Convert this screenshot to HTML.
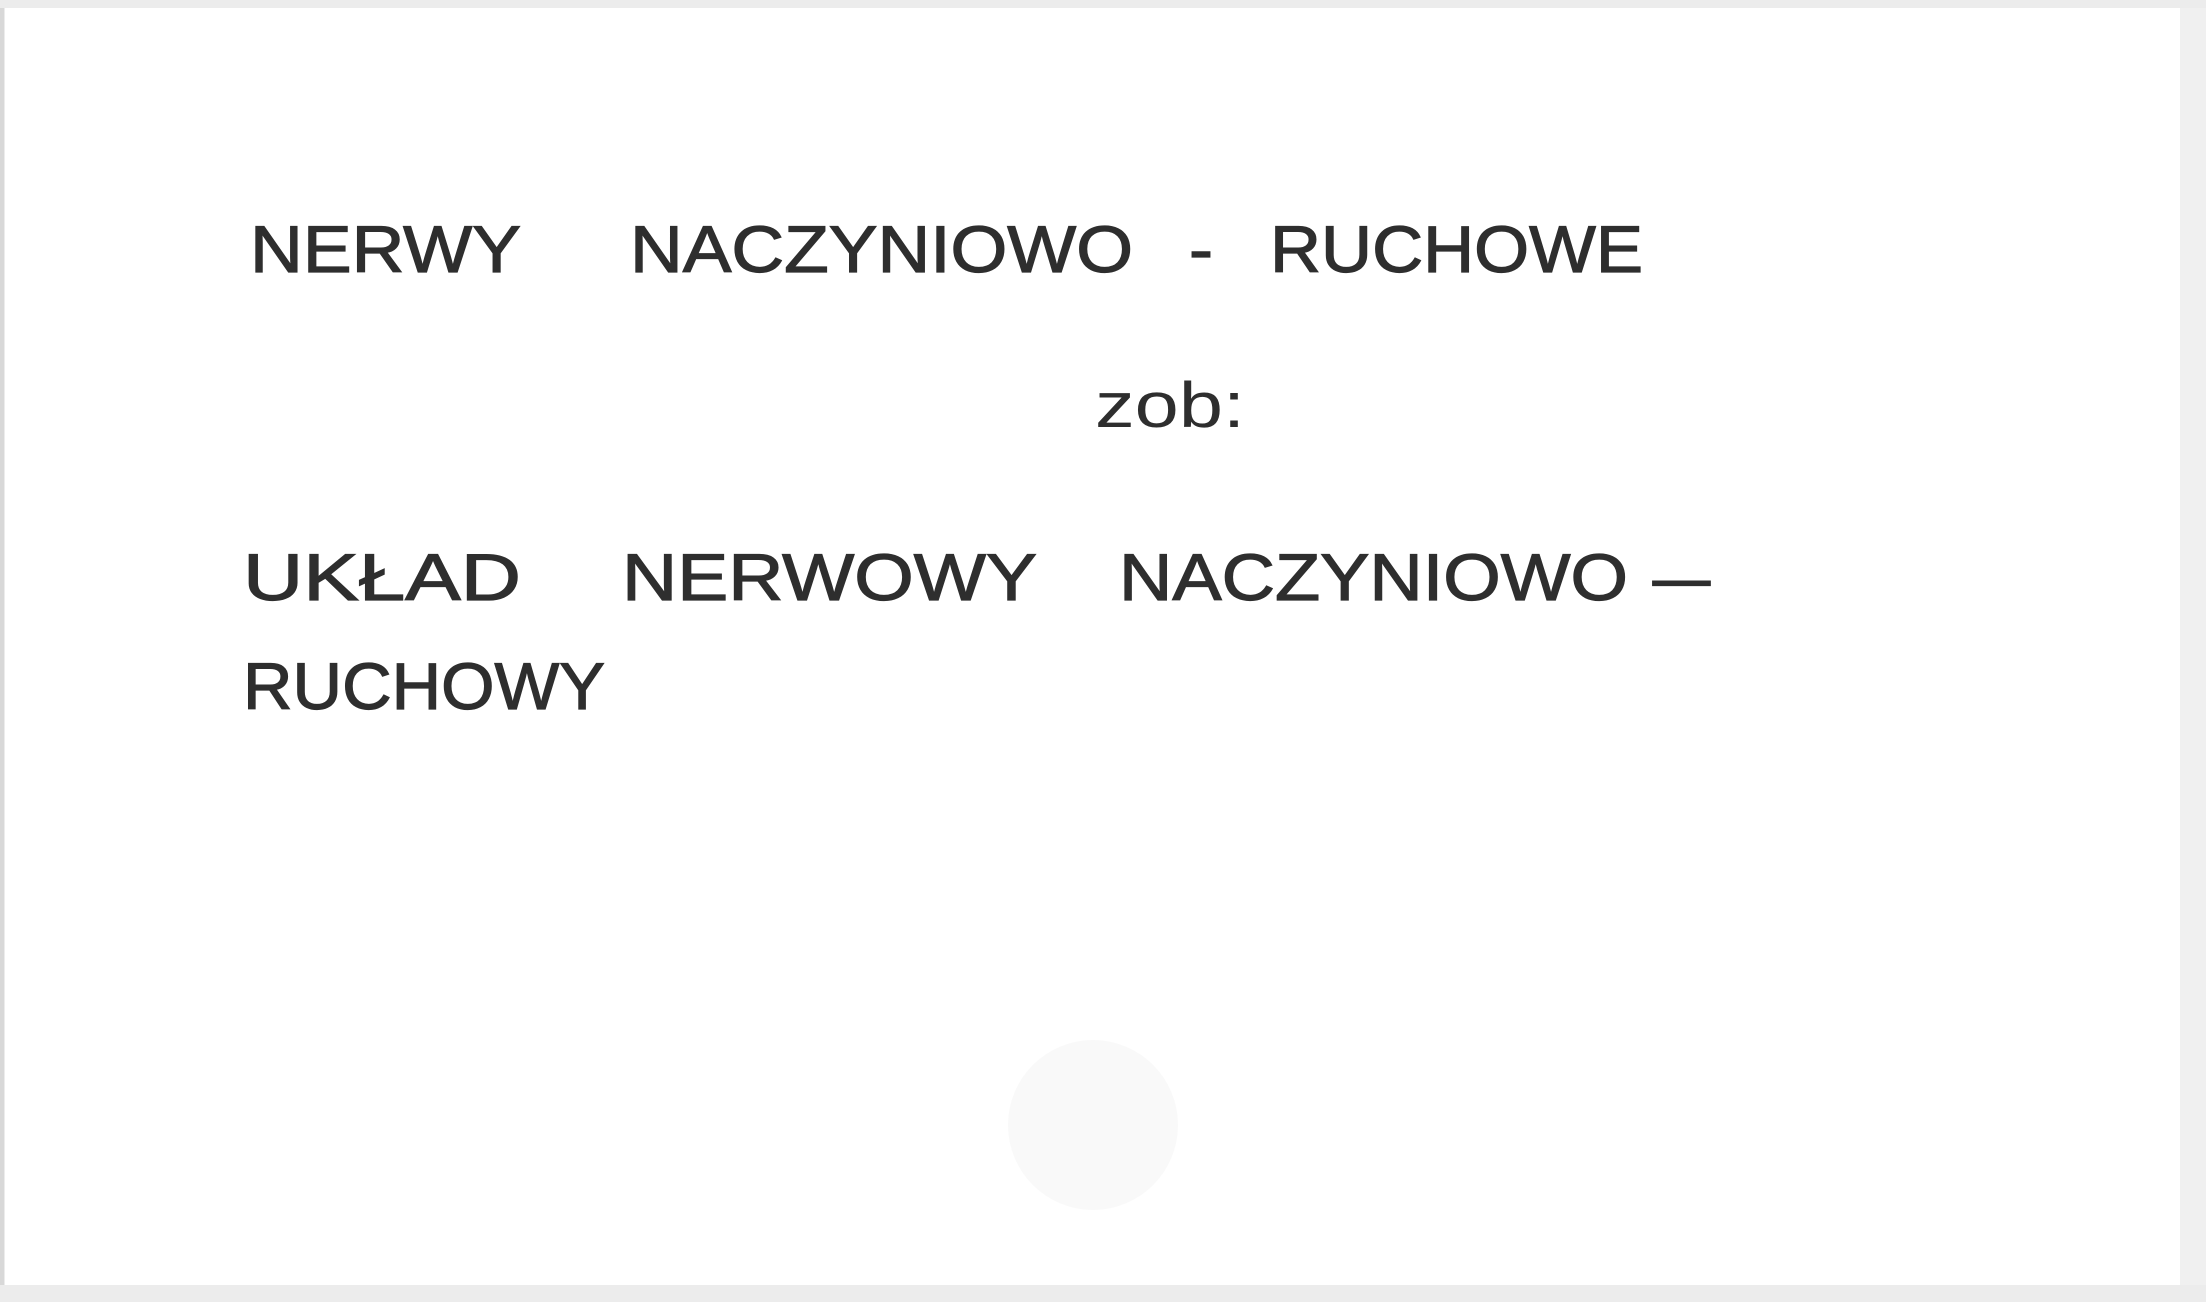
<!DOCTYPE html>
<html>
<head>
<meta charset="utf-8">
<style>
html,body{margin:0;padding:0;background:#fff;}
svg{display:block;}
</style>
</head>
<body>
<svg width="2206" height="1302" viewBox="0 0 2206 1302" xmlns="http://www.w3.org/2000/svg">
  <rect x="0" y="0" width="2206" height="1302" fill="#ffffff"/>
  <rect x="2" y="2" width="2202" height="1298" fill="none" stroke="#d8d8d8" stroke-width="5"/>
  <rect x="2180" y="0" width="26" height="1302" fill="#f0f0f0"/>
  <rect x="0" y="1285" width="2206" height="17" fill="#ececec"/>
  <rect x="0" y="0" width="2206" height="8" fill="#ececec"/>
  <circle cx="1093" cy="1125" r="85" fill="#f9f9f9"/>
  <g font-family="'Liberation Sans', sans-serif" fill="#2e2e2e" font-size="66" stroke="#2e2e2e" stroke-width="1.2">
    <text x="250" y="272" textLength="271" lengthAdjust="spacingAndGlyphs">NERWY</text>
    <text x="630" y="272" textLength="503" lengthAdjust="spacingAndGlyphs">NACZYNIOWO</text>
    <text x="1189" y="272" textLength="24" lengthAdjust="spacingAndGlyphs">-</text>
    <text x="1270" y="272" textLength="373" lengthAdjust="spacingAndGlyphs">RUCHOWE</text>

    <text x="243" y="600" textLength="278" lengthAdjust="spacingAndGlyphs">UKŁAD</text>
    <text x="622" y="600" textLength="415" lengthAdjust="spacingAndGlyphs">NERWOWY</text>
    <text x="1119" y="600" textLength="509" lengthAdjust="spacingAndGlyphs">NACZYNIOWO</text>
    <text x="1653" y="600" textLength="57" lengthAdjust="spacingAndGlyphs">–</text>

    <text x="243" y="709" textLength="362" lengthAdjust="spacingAndGlyphs">RUCHOWY</text>
  </g>
  <text x="1095" y="427" textLength="150" lengthAdjust="spacingAndGlyphs" font-family="'Liberation Sans', sans-serif" font-size="64" fill="#2e2e2e">zob:</text>
</svg>
</body>
</html>
